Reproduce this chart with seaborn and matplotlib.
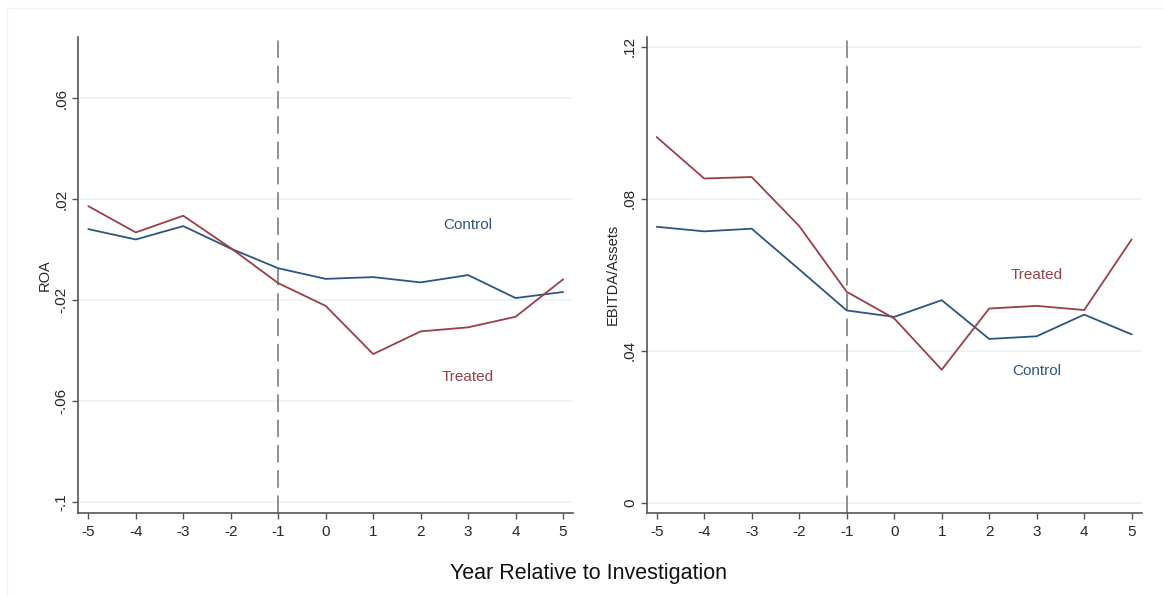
import matplotlib
matplotlib.use("Agg")
import matplotlib.pyplot as plt
from matplotlib.patches import Rectangle
import pandas as pd
import seaborn as sns

# Event-time means for treated and control firms
years = [-5, -4, -3, -2, -1, 0, 1, 2, 3, 4, 5]
roa_control = [0.0081, 0.0040, 0.0093, 0.0004, -0.0074, -0.0116, -0.0109, -0.0130, -0.0101, -0.0192, -0.0168]
roa_treated = [0.0172, 0.0068, 0.0134, 0.0006, -0.0133, -0.0223, -0.0414, -0.0324, -0.0308, -0.0266, -0.0118]
ebitda_control = [0.0726, 0.0714, 0.0721, 0.0614, 0.0506, 0.0489, 0.0533, 0.0431, 0.0438, 0.0495, 0.0443]
ebitda_treated = [0.0962, 0.0853, 0.0857, 0.0728, 0.0555, 0.0485, 0.0350, 0.0511, 0.0518, 0.0507, 0.0693]

groups = ["Control", "Treated"]
roa_ticks = [-0.1, -0.06, -0.02, 0.02, 0.06]
roa_ticklabels = ["-.1", "-.06", "-.02", ".02", ".06"]
ebitda_ticks = [0, 0.04, 0.08, 0.12]
ebitda_ticklabels = ["0", ".04", ".08", ".12"]
event_year = -1

# in-plot series labels: (x, y) in data units
roa_label_pos = {"Control": (3, 0.0098), "Treated": (3, -0.0503)}
ebitda_label_pos = {"Treated": (3, 0.0599), "Control": (3, 0.0347)}

BLUE = "#2a5680"
RED = "#9a3f46"
palette = {"Control": BLUE, "Treated": RED}

sns.set_theme(style="white")
plt.rcParams["font.family"] = ["Liberation Sans", "DejaVu Sans"]


def long_frame(control, treated):
    return pd.DataFrame({
        "year": years * 2,
        "value": list(control) + list(treated),
        "group": ["Control"] * len(years) + ["Treated"] * len(years),
    })


fig = plt.figure(figsize=(11.64, 5.96), dpi=100)
fig.add_artist(Rectangle((7 / 1164, -0.01), 1.02, 1 - 8 / 596 + 0.01,
                         transform=fig.transFigure, fill=False,
                         edgecolor="#f0f3f5", linewidth=1.0))

ax1 = fig.add_axes([0.0673, 0.1398, 0.4250, 0.7986])
ax2 = fig.add_axes([0.5556, 0.1398, 0.4252, 0.7986])

panels = [
    (ax1, long_frame(roa_control, roa_treated), "ROA", (-0.1042, 0.0843),
     roa_ticks, roa_ticklabels, roa_label_pos),
    (ax2, long_frame(ebitda_control, ebitda_treated), "EBITDA/Assets", (-0.0026, 0.1226),
     ebitda_ticks, ebitda_ticklabels, ebitda_label_pos),
]

for ax, df, ylab, ylim, ticks, ticklabels, label_pos in panels:
    for t in ticks:
        ax.axhline(t, color="#edf2f3", linewidth=1.2, zorder=0)
    ax.axvline(event_year, color="#909090", linewidth=1.4,
               linestyle=(0, (9, 4)), zorder=1)
    sns.lineplot(data=df, x="year", y="value", hue="group", hue_order=groups,
                 palette=palette, linewidth=1.3, legend=False, ax=ax, zorder=3)
    for g, (x, y) in label_pos.items():
        ax.text(x, y, g, color=palette[g], fontsize=11, ha="center", va="center")

    ax.set_xlim(-5.21, 5.21)
    ax.set_ylim(*ylim)
    ax.set_xticks(years)
    ax.set_xticklabels([str(y) for y in years])
    ax.set_yticks(ticks)
    ax.set_yticklabels(ticklabels, rotation=90, va="center")
    ax.set_xlabel("")
    ax.set_ylabel(ylab, fontsize=10.5, labelpad=2)
    ax.tick_params(axis="both", direction="out", length=4, width=1,
                   color="#555555", labelsize=11, left=True, bottom=True)
    ax.tick_params(axis="x", pad=5)
    ax.tick_params(axis="y", pad=3)
    for side in ["top", "right"]:
        ax.spines[side].set_visible(False)
    for side in ["left", "bottom"]:
        ax.spines[side].set_color("#555555")
        ax.spines[side].set_linewidth(1.2)
    ax.set_facecolor("white")

fig.text(0.506, 0.0385, "Year Relative to Investigation", fontsize=15.5,
         ha="center", va="center", color="#111111")

fig.savefig("out.png", dpi=100, facecolor="white")
